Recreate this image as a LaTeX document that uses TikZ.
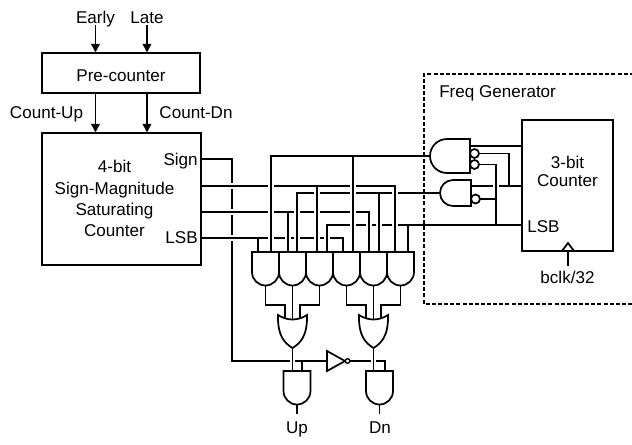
\documentclass[tikz,border=0pt]{standalone}
\usepackage{fontspec}
\setmainfont{Liberation Sans}
\usetikzlibrary{arrows.meta}
\newcommand\andg[2]{\draw[gate] ({#1-13.5},{#2+20}) -- ({#1-13.5},#2) -- ({#1+13.5},#2) -- ({#1+13.5},{#2+20}) arc[start angle=0,end angle=-180,radius=10.125pt] -- cycle;}
\newcommand\org[1]{\draw[gate] ({#1-14.5},315) .. controls ({#1-5},321) and ({#1+5},321) .. ({#1+14.5},315) .. controls ({#1+15},336) and ({#1+8},343) .. (#1,348) .. controls ({#1-8},343) and ({#1-15},336) .. ({#1-14.5},315) -- cycle;}
\begin{document}
\begin{tikzpicture}[x=0.75pt,y=-0.75pt,
  wire/.style={line width=1.3pt,line cap=rect},
  over/.style={preaction={draw=white,line width=4pt,line cap=butt,shorten <=2pt,shorten >=2pt}},
  box/.style={draw,line width=1.3pt,inner sep=0pt},
  lbl/.style={font=\fontsize{12.8pt}{16pt}\selectfont,inner sep=0pt},
  gate/.style={draw,fill=white,line width=1.3pt,line join=miter},
  arr/.style={line width=1.3pt,-{Triangle[length=6.5pt,width=6.5pt]}},
  fg/.style={draw,line width=1pt,dash pattern=on 3pt off 1.6pt}]
\useasboundingbox (0,0) rectangle (632,444);

% ---- labels and boxes
\node[lbl,anchor=base] (early) at (95.5,23) {Early};
\node[lbl,anchor=base] (late) at (147,23) {Late};
\node[box,minimum width=118.5pt,minimum height=29.5pt] (pre) at (121,73) {};
\node[lbl,anchor=base] (pretxt) at (121,81) {Pre-counter};
\node[lbl,anchor=base] (cup) at (46.5,118) {Count-Up};
\node[lbl,anchor=base] (cdn) at (196,118) {Count-Dn};
\node[box,minimum width=119.25pt,minimum height=98.8pt] (cnt) at (121.5,199.2) {};
\node[lbl,anchor=base] (c1) at (114.5,172.7) {4-bit};
\node[lbl,anchor=base] (c2) at (114.5,194) {Sign-Magnitude};
\node[lbl,anchor=base] (c3) at (114.5,215.5) {Saturating};
\node[lbl,anchor=base] (c4) at (114.5,236.7) {Counter};
\node[lbl,anchor=base east] (sign) at (198,165) {Sign};
\node[lbl,anchor=base east] (lsb) at (198,243.3) {LSB};

\draw[arr] (early |- 0,25) -- (early |- pre.north);
\draw[arr] (late |- 0,25) -- (late |- pre.north);
\draw[arr] (pre.south -| early) -- (cnt.north -| early);
\draw[arr] (pre.south -| late) -- (cnt.north -| late);

% ---- freq generator
\draw[fg] (640,74) -- (424,74) -- (424,304) -- (640,304);
\node[lbl,anchor=base west] (fgl) at (439,97) {Freq Generator};
\node[box,minimum width=68.25pt,minimum height=98.25pt] (c3b) at (567.5,185.5) {};
\node[lbl,anchor=base] (t1) at (567.5,168) {3-bit};
\node[lbl,anchor=base] (t2) at (567.5,186.5) {Counter};
\node[lbl,anchor=base west] (lsb3) at (527,232) {LSB};
\node[lbl,anchor=base] (bclk) at (567.5,283) {bclk/32};
\draw[wire,line join=miter] (562,251) -- (568,243) -- (574,251);
\draw[wire] (568,251) -- (568,265);

% ---- sign path
\draw[wire] (201,159) -- (232,159) -- (232,361) -- (327,361);
\draw[wire] (302,361) -- (302,371);

% ---- horizontal buses
\draw[wire,over] (201,186) -- (395,186);
\draw[wire,over] (201,212) -- (369,212);
\draw[wire,over] (201,238) -- (343,238);
\draw[wire] (430,156) -- (271,156);
\draw[wire] (440,193) -- (297,193);
\draw[wire] (522,225) -- (327,225);

% ---- verticals to AND gates
\foreach \x/\y in {271/156,353/156,297/193,379/193,317/186,395/186,288/212,369/212,258/238,343/238,327/225,408/225}
  {\draw[wire,over] (\x,\y) -- (\x,252);}

% ---- freq generator inner wiring
\draw[wire] (470,146) -- (522,146);
\draw[wire] (471,186) -- (522,186);
\draw[wire] (479,153.5) -- (509,153.5) -- (509,186);
\draw[wire,over] (479,164.5) -- (496,164.5) -- (496,225);
\draw[wire] (480,199) -- (496,199);

% NAND gates
\draw[gate] (447,139) -- (470,139) -- (470,173) -- (447,173) arc[start angle=270,end angle=90,radius=12.75pt] -- cycle;
\draw[gate] (453,180) -- (471,180) -- (471,206) -- (453,206) arc[start angle=270,end angle=90,radius=9.75pt] -- cycle;
\draw[gate] (474.5,153.5) circle[radius=3.375pt];
\draw[gate] (474.5,164.5) circle[radius=3.375pt];
\draw[gate] (475.5,199) circle[radius=3.375pt];

% ---- AND outputs to OR gates
\draw[wire] (265.5,285.5) -- (265.5,305) -- (285,305) -- (285,320);
\draw[wire] (292.5,285.5) -- (292.5,320);
\draw[wire] (319.5,285.5) -- (319.5,305) -- (300,305) -- (300,320);
\draw[wire] (346.5,285.5) -- (346.5,305) -- (366,305) -- (366,320);
\draw[wire] (373.5,285.5) -- (373.5,320);
\draw[wire] (400.5,285.5) -- (400.5,305) -- (381,305) -- (381,320);

\foreach \c in {265.5,292.5,319.5,346.5,373.5,400.5} {\andg{\c}{252}}
\org{292.5}
\org{373.5}

% ---- final stage
\draw[wire] (350,361) -- (385,361) -- (385,371);
\draw[wire,over] (292.5,348) -- (292.5,371);
\draw[wire,over] (373.5,348) -- (373.5,371);
\draw[gate] (327,351) -- (345,361) -- (327,371) -- cycle;
\draw[gate,line width=1pt] (347.6,361) circle[radius=1.7pt];
\andg{297}{371}
\andg{379.5}{371}
\draw[wire] (297,404.5) -- (297,413);
\draw[wire] (379.5,404.5) -- (379.5,413);
\node[lbl,anchor=base] (up) at (297,433) {Up};
\node[lbl,anchor=base] (dn) at (380,433) {Dn};
\end{tikzpicture}
\end{document}
